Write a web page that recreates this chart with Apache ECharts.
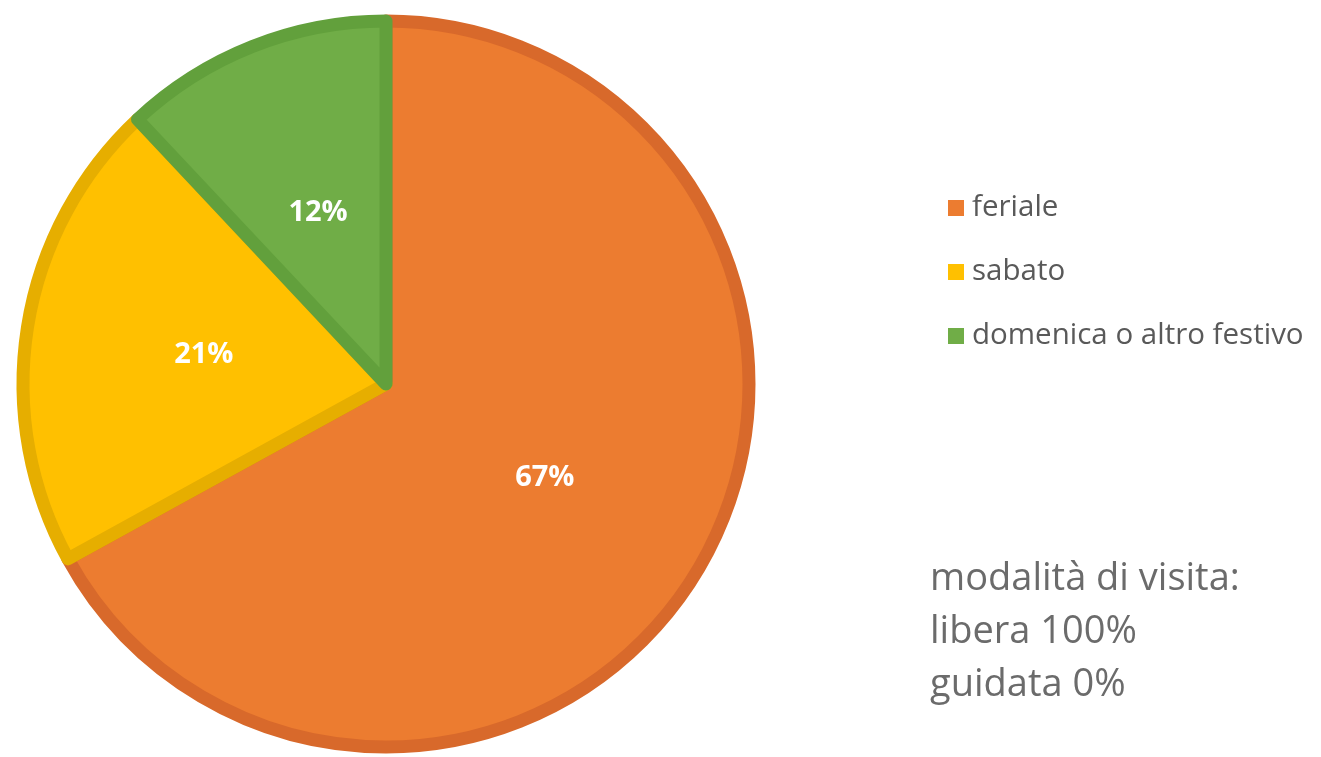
<!DOCTYPE html>
<html>
<head>
<meta charset="utf-8">
<script src="https://cdn.jsdelivr.net/npm/echarts@6/dist/echarts.min.js"></script>
<style>html,body{margin:0;padding:0;background:#fff;}#c{width:1321px;height:757px;}</style>
</head>
<body>
<div id="c"></div>
<script>
const categories = ['feriale', 'sabato', 'domenica o altro festivo'];
const values = [67, 21, 12];
const fillColors = ['#EC7C30', '#FFC000', '#70AD47'];
const borderColors = ['#D8692B', '#E6AE00', '#62A03C'];
const noteLines = ['modalità di visita:', 'libera 100%', 'guidata 0%'];

const chart = echarts.init(document.getElementById('c'));
chart.setOption({
  animation: false,
  legend: {
    orient: 'vertical',
    left: 943,
    top: 188,
    itemWidth: 16,
    itemHeight: 16,
    itemGap: 34,
    icon: 'rect',
    itemStyle: { borderWidth: 0 },
    textStyle: { fontFamily: 'Open Sans', fontSize: 29.5, color: '#595959', padding: [0, 0, 0, 3] },
    data: categories
  },
  graphic: noteLines.map((t, i) => ({
    type: 'text',
    left: 930,
    top: 560 + i * 53,
    style: { text: t, font: '38px "Open Sans"', fill: '#6b6b6b' }
  })),
  series: [{
    type: 'pie',
    center: [386, 384],
    radius: [0, 363],
    startAngle: 90,
    clockwise: true,
    label: {
      show: true,
      position: 'inside',
      formatter: '{d}%',
      color: '#fff',
      fontFamily: 'Open Sans',
      fontWeight: 'bold',
      fontSize: 29
    },
    labelLine: { show: false },
    emphasis: { disabled: true },
    data: categories.map((c, i) => ({
      name: c,
      value: values[i],
      itemStyle: { color: fillColors[i], borderColor: borderColors[i], borderWidth: 13 }
    }))
  }]
});
</script>
</body>
</html>
